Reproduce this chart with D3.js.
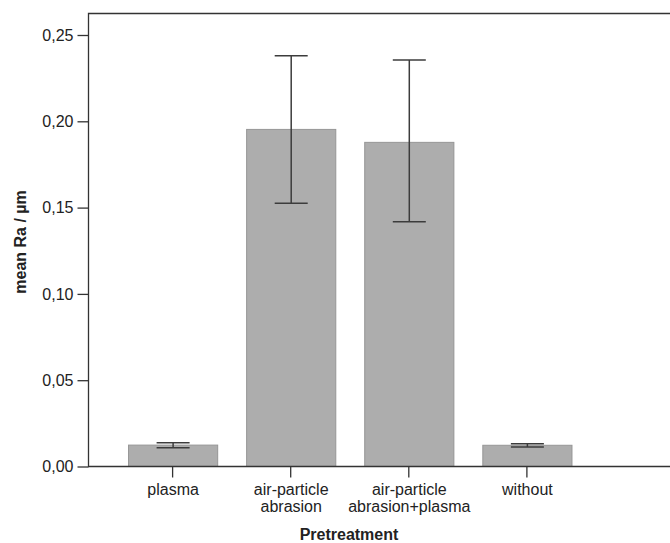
<!DOCTYPE html>
<html>
<head>
<meta charset="utf-8">
<script src="https://cdn.jsdelivr.net/npm/d3@7"></script>
<style>
  body { margin: 0; background: #fff; }
  text { font-family: "Liberation Sans", Arial, sans-serif; fill: #222; }
</style>
</head>
<body>
<div class="o"></div>
<script>
const categories = [["plasma"], ["air-particle", "abrasion"], ["air-particle", "abrasion+plasma"], ["without"]]
const means = [0.0124, 0.1953, 0.1878, 0.0123]
const errLow = [0.0109, 0.1525, 0.1418, 0.0113]
const errHigh = [0.0138, 0.2380, 0.2355, 0.0132]
const yTicks = [0, 0.05, 0.10, 0.15, 0.20, 0.25]

const width = 670, height = 543
const plotLeft = 88.5, plotTop = 13.5, plotBottom = 466.5

const svg = d3.select(".o").append("svg")
  .attr("width", width)
  .attr("height", height)

const x = d3.scaleBand()
  .domain(d3.range(categories.length))
  .range([113.5, 586])
  .paddingInner(0.245)
  .paddingOuter(0.123)

const y = d3.scaleLinear()
  .domain([0, 0.25])
  .range([plotBottom, 35])

// bars
svg.append("g").selectAll("rect")
  .data(means)
  .join("rect")
    .attr("x", (d, i) => x(i) + 0.5)
    .attr("y", d => y(d))
    .attr("width", x.bandwidth())
    .attr("height", d => y(0) - y(d))
    .attr("fill", "#adadad")
    .attr("stroke", "#969696")
    .attr("stroke-width", 1)

// error bars
const eb = svg.append("g")
  .attr("stroke", "#3c3c3c")
  .attr("stroke-width", 1.5)
const cx = i => x(i) + x.bandwidth() / 2 + 0.5
const cap = 16.5
means.forEach((m, i) => {
  eb.append("line")
    .attr("x1", cx(i)).attr("x2", cx(i))
    .attr("y1", y(errHigh[i])).attr("y2", y(errLow[i]))
  eb.append("line")
    .attr("x1", cx(i) - cap).attr("x2", cx(i) + cap)
    .attr("y1", y(errHigh[i])).attr("y2", y(errHigh[i]))
  eb.append("line")
    .attr("x1", cx(i) - cap).attr("x2", cx(i) + cap)
    .attr("y1", y(errLow[i])).attr("y2", y(errLow[i]))
})

// frame
svg.append("path")
  .attr("d", `M${width},${plotTop}H${plotLeft}V${plotBottom}H${width}`)
  .attr("fill", "none")
  .attr("stroke", "#333")
  .attr("stroke-width", 1.3)

// y axis
const yAxis = svg.append("g")
  .attr("transform", `translate(${plotLeft},0)`)
  .call(d3.axisLeft(y).tickValues(yTicks).tickSize(11).tickPadding(4)
    .tickFormat(d => d3.format(".2f")(d).replace(".", ",")))
yAxis.select(".domain").remove()
yAxis.selectAll(".tick line").attr("stroke", "#333").attr("stroke-width", 1.3)
yAxis.selectAll(".tick text")
  .style("font-family", "Liberation Sans, Arial, sans-serif")
  .style("font-size", "16px")
  .attr("fill", "#222")

// x axis
const xAxis = svg.append("g")
  .attr("transform", `translate(0,${plotBottom})`)
  .call(d3.axisBottom(x).tickSize(11).tickFormat(""))
xAxis.select(".domain").remove()
xAxis.selectAll(".tick line").attr("stroke", "#333").attr("stroke-width", 1.3)

svg.append("g").selectAll("text")
  .data(categories)
  .join("text")
    .attr("x", (d, i) => cx(i))
    .attr("y", 495)
    .attr("text-anchor", "middle")
    .style("font-size", "16px")
    .selectAll("tspan")
    .data(d => d)
    .join("tspan")
      .attr("x", function() { return d3.select(this.parentNode).attr("x") })
      .attr("dy", (d, j) => j === 0 ? 0 : 17)
      .text(d => d)

svg.append("text")
  .attr("x", 349)
  .attr("y", 540)
  .attr("text-anchor", "middle")
  .style("font-size", "16px")
  .style("font-weight", "bold")
  .text("Pretreatment")

svg.append("text")
  .attr("transform", `translate(26,242) rotate(-90)`)
  .attr("text-anchor", "middle")
  .style("font-size", "16px")
  .style("font-weight", "bold")
  .text("mean Ra / µm")
</script>
</body>
</html>
